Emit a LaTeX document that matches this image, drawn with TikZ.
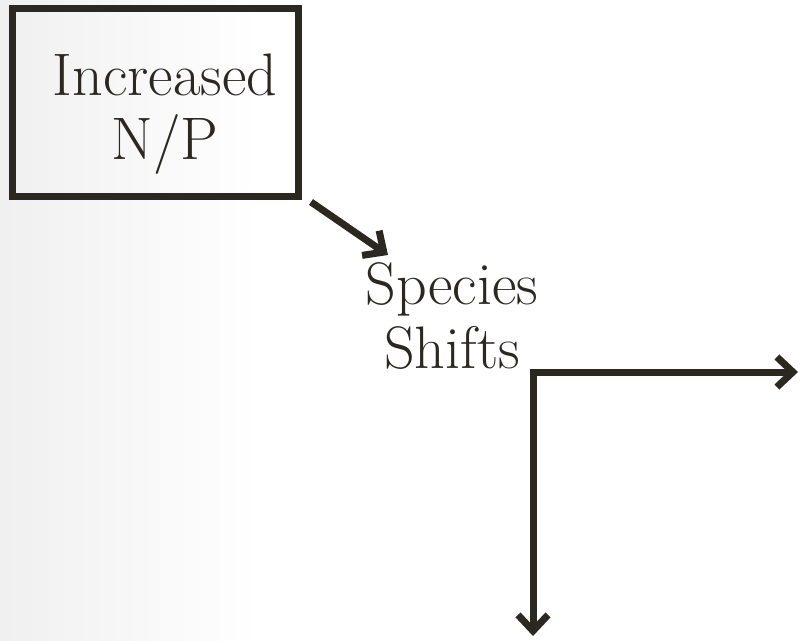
\documentclass[tikz,border=0pt]{standalone}
\usetikzlibrary{arrows.meta}
\definecolor{ink}{RGB}{43,40,33}
\begin{document}
\begin{tikzpicture}[x=1pt,y=-1pt,
  boxed/.style={draw=ink,line width=7pt,minimum width=286pt,minimum height=188pt,inner sep=0pt},
  label text/.style={text=ink,align=center,font=\fontsize{60}{64}\selectfont,inner sep=0pt},
  arr/.style={draw=ink,line width=7pt,line join=miter,-{Straight Barb[length=16pt,width=30pt]}},
  elbow/.style={draw=ink,line width=7pt,line join=miter,{Straight Barb[length=16pt,width=30pt]}-{Straight Barb[length=16pt,width=30pt]}}]
\useasboundingbox (0,0) rectangle (800,640);
\fill[white] (0,0) rectangle (800,640);
\shade[left color=black!6,right color=white] (0,0) rectangle (260,640);
\node[boxed] (np) at (155,102) {};
\node[label text] (nptext) at (165,114) {Increased\\N/P};
\node[label text] (species) at (452,316) {Species\\Shifts};
\coordinate (a1s) at (311,202);
\coordinate (a1e) at (388,255);
\coordinate (corner) at (533,372);
\coordinate (rightend) at (798,372);
\coordinate (downend) at (533,636);
\draw[arr] (a1s) -- (a1e);
\draw[elbow] (downend) -- (corner) -- (rightend);
\end{tikzpicture}
\end{document}
